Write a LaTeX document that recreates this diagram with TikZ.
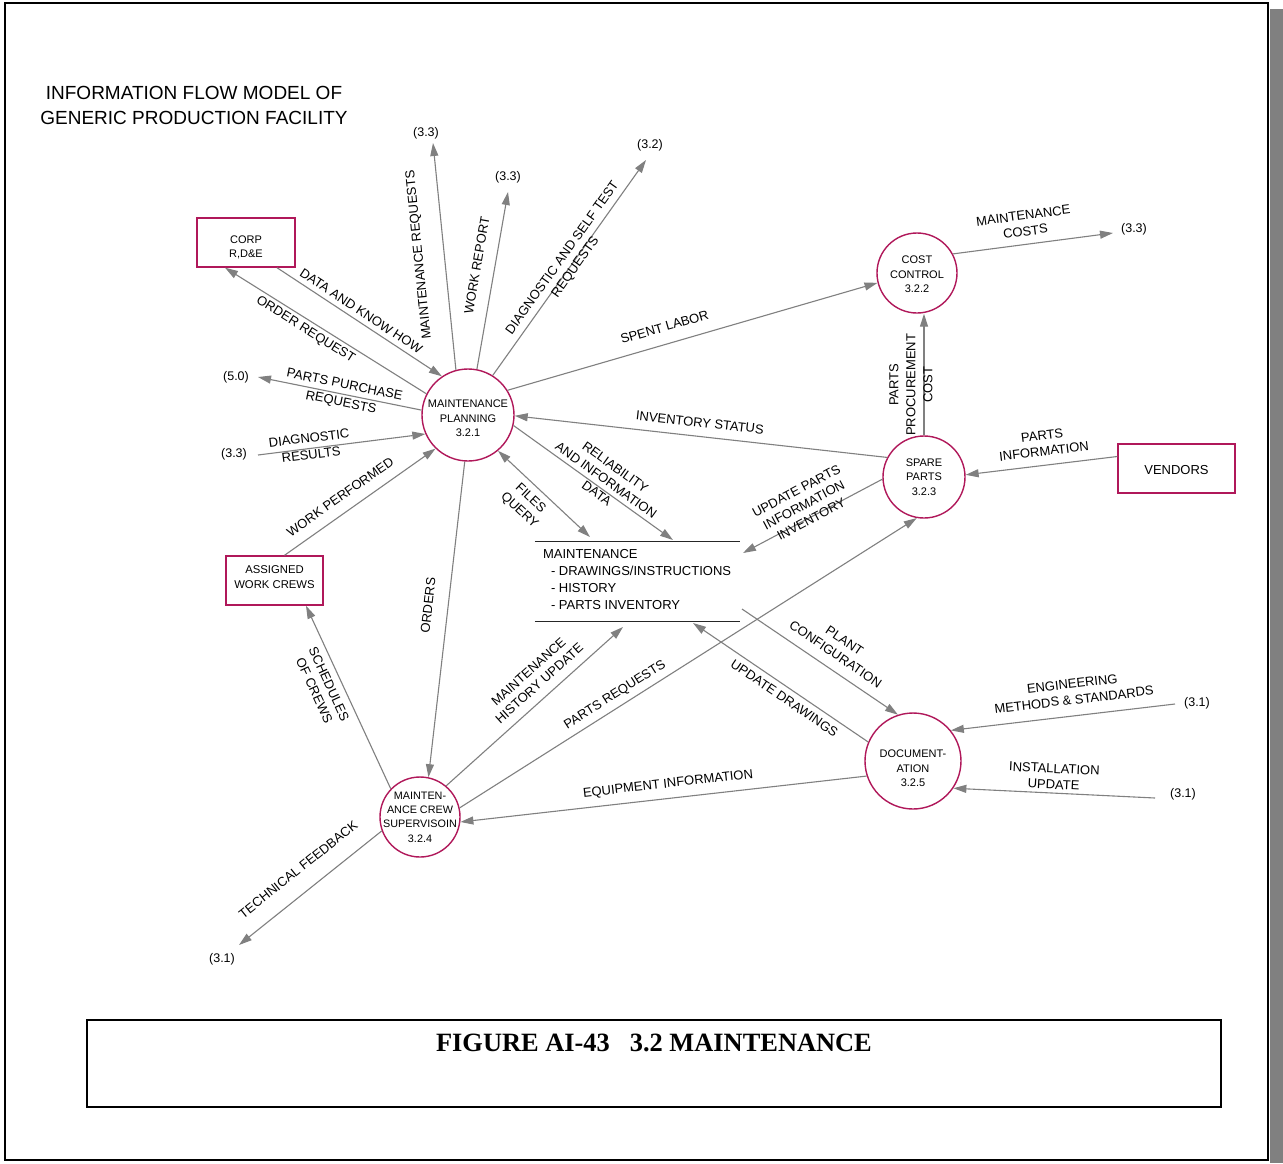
\documentclass[tikz,border=0pt]{standalone}
\usepackage{fontspec}
\setmainfont{Liberation Sans}
\newfontfamily\capfont{Liberation Serif}
\usetikzlibrary{arrows.meta,calc}

\definecolor{procred}{RGB}{176,24,90}
\definecolor{flowgray}{RGB}{128,128,128}

\begin{document}
\begin{tikzpicture}[x=1pt,y=-1pt,
  proc/.style={circle,draw=procred,line width=1.4pt,inner sep=0pt,minimum size=#1},
  ptext/.style={align=center,inner sep=0pt,font=\fontsize{11}{14.5}\selectfont},
  ext/.style={rectangle,draw=procred,line width=1.4pt,inner sep=0pt,minimum height=49pt},
  flow/.style={draw=flowgray,line width=1.1pt,-{Triangle[length=13pt,width=8pt]}},
  flowboth/.style={draw=flowgray,line width=1.1pt,{Triangle[length=13pt,width=8pt]}-{Triangle[length=13pt,width=8pt]}},
  lbl/.style={font=\fontsize{13}{16}\selectfont,align=center,inner sep=0pt,sloped,anchor=center},
  refnode/.style={font=\fontsize{12.5}{15}\selectfont,inner sep=0pt}]

\useasboundingbox (0,0) rectangle (1283,1163);
\fill[white] (0,0) rectangle (1283,1163);

% page frame with drop shadow
\fill[flowgray] (1270,9) rectangle (1283,1163);
\draw[line width=1.5pt] (5,3) rectangle (1268,1160);

% heading
\node[font=\fontsize{19}{25}\selectfont,align=center,inner sep=0pt] (title) at (194,105.5)
  {INFORMATION FLOW MODEL OF\\GENERIC PRODUCTION FACILITY};

% processes
\node[proc=92pt] (MP) at (468,415) {};
\node[ptext] (MPt) at ([yshift=-3.5pt]MP.center) {MAINTENANCE\\PLANNING\\3.2.1};
\node[proc=80pt] (CC) at (917,273) {};
\node[ptext] (CCt) at ([yshift=-1.5pt]CC.center) {COST\\CONTROL\\3.2.2};
\node[proc=82pt] (SP) at (924,477) {};
\node[ptext] (SPt) at (SP.center) {SPARE\\PARTS\\3.2.3};
\node[proc=80pt] (MCS) at (420,817) {};
\node[ptext,font=\fontsize{10.8}{14.3}\selectfont] (MCSt) at (MCS.center) {MAINTEN-\\ANCE CREW\\SUPERVISOIN\\3.2.4};
\node[proc=96pt] (DOC) at (913,761) {};
\node[ptext] (DOCt) at ([yshift=-7.5pt]DOC.center) {DOCUMENT-\\ATION\\3.2.5};

% external entities
\node[ext,minimum width=98pt] (CORP) at (246,242.5) {};
\node[ptext,font=\fontsize{11}{14}\selectfont] (CORPt) at ([yshift=-4.5pt]CORP.center) {CORP\\R,D\&E};
\node[ext,minimum width=97pt] (AWC) at (274.5,580.5) {};
\node[ptext,font=\fontsize{11.3}{15}\selectfont] (AWCt) at ([yshift=3pt]AWC.center) {ASSIGNED\\WORK CREWS};
\node[ext,minimum width=117pt] (VEN) at (1176.5,468.5) {};
\node[ptext,font=\fontsize{13}{16}\selectfont] (VENt) at ([yshift=-1.5pt]VEN.center) {VENDORS};

% data store
\node[minimum width=205pt,minimum height=79pt,inner sep=0pt] (DS) at (637.5,581.5) {};
\draw[line width=1.3pt,black!85] (DS.north west) -- (DS.north east) (DS.south west) -- (DS.south east);
\node[anchor=north west,align=left,inner sep=0pt,font=\fontsize{13}{17}\selectfont] (DSt)
  at ([xshift=8pt,yshift=-7pt]DS.north west)
  {MAINTENANCE\\\hspace*{8pt}- DRAWINGS/INSTRUCTIONS\\\hspace*{8pt}- HISTORY\\\hspace*{8pt}- PARTS INVENTORY};

\coordinate (dsUP) at (743,553);
\coordinate (dsFQ) at (590,537);
\coordinate (dsRE) at (673,540);
\coordinate (dsMH) at (623,627);
\coordinate (dsUD) at (693,623);
\coordinate (dsPC) at (742,609);

% references to other functions
\node[refnode] (r1) at (426,133) {(3.3)};
\node[refnode] (r2) at (508,177) {(3.3)};
\node[refnode] (r3) at (650,145) {(3.2)};
\node[refnode] (r4) at (1134,229) {(3.3)};
\node[refnode] (r5) at (236,377) {(5.0)};
\node[refnode] (r6) at (234,454) {(3.3)};
\node[refnode] (r7) at (1197,703) {(3.1)};
\node[refnode] (r8) at (1183,794) {(3.1)};
\node[refnode] (r9) at (222,959) {(3.1)};
\coordinate (e1) at (433,143);
\coordinate (e2) at (508,192);
\coordinate (e3) at (646,160);
\coordinate (e4) at (1113,233);
\coordinate (e5) at (258,377);
\coordinate (e6) at (258,455);
\coordinate (e7) at (1175,704);
\coordinate (e8) at (1155,798);
\coordinate (e9) at (239,945);

% information flows
\draw[flow] (MP.153) -- ([xshift=-21pt]CORP.south) node[lbl,pos=0.574,yshift=-10pt] {ORDER REQUEST};
\draw[flow] ([xshift=31pt]CORP.south) -- (MP.124) node[lbl,pos=0.477,yshift=10pt] {DATA AND KNOW HOW};
\draw[flow] (MP.105) -- (e1) node[lbl,allow upside down,pos=0.518,yshift=25pt] {MAINTENANCE REQUESTS};
\draw[flow] (MP.79) -- (e2) node[lbl,pos=0.567,yshift=18pt] {WORK REPORT};
\draw[flow] (MP.58) -- (e3) node[lbl,pos=0.515,yshift=3pt] {DIAGNOSTIC AND SELF TEST\\REQUESTS};
\draw[flow] (MP.32) -- (CC.194) node[lbl,pos=0.437,yshift=17pt] {SPENT LABOR};
\draw[flow] (CC.28) -- (e4) node[lbl,pos=0.463,yshift=21pt] {MAINTENANCE\\COSTS};
\draw[flow] (SP.north) -- (SP.north |- CC.south) node[lbl,pos=0.415,yshift=13pt,font=\fontsize{13}{17}\selectfont] {PARTS\\PROCUREMENT\\COST};
\draw[flow] (SP.152) -- (MP.-1) node[lbl,pos=0.507,yshift=14pt] {INVENTORY STATUS};
\draw[flow] ([yshift=12pt]VEN.west) -- (SP.3) node[lbl,pos=0.472,yshift=22pt] {PARTS\\INFORMATION};
\draw[flow] (SP.183) -- (dsUP) node[lbl,pos=0.517,yshift=14pt] {UPDATE PARTS\\INFORMATION\\INVENTORY};
\draw[flow] (MP.174) -- (e5) node[lbl,pos=0.482,yshift=0pt,font=\fontsize{13}{18}\selectfont] {PARTS PURCHASE\\REQUESTS};
\draw[flow] (e6) -- (MP.204) node[lbl,pos=0.313,yshift=2pt,font=\fontsize{13}{17}\selectfont] {DIAGNOSTIC\\RESULTS};
\draw[flow] ([xshift=10pt]AWC.north) -- (MP.226) node[lbl,pos=0.428,yshift=15.5pt] {WORK PERFORMED};
\draw[flowboth] (MP.310) -- (dsFQ) node[lbl,pos=0.447,yshift=-21pt] {FILES\\QUERY};
\draw[flow] (MP.347) -- (dsRE) node[lbl,pos=0.546,yshift=9.5pt] {RELIABILITY\\AND INFORMATION\\DATA};
\draw[flow] (MP.266) -- (MCS.78) node[lbl,pos=0.463,yshift=20pt] {ORDERS};
\draw[flow] (MCS.136) -- ([xshift=31.5pt]AWC.south) node[lbl,pos=0.6,yshift=-20pt] {SCHEDULES\\OF CREWS};
\draw[flow] (MCS.50) -- (dsMH) node[lbl,pos=0.579,yshift=22pt] {MAINTENANCE\\HISTORY UPDATE};
\draw[flow] (MCS.13) -- (SP.260) node[lbl,pos=0.354,yshift=12pt] {PARTS REQUESTS};
\draw[flow] (DOC.198) -- (MCS.-7) node[lbl,pos=0.485,yshift=14pt] {EQUIPMENT INFORMATION};
\draw[flow] (DOC.157) -- (dsUD) node[lbl,pos=0.443,yshift=-11pt] {UPDATE DRAWINGS};
\draw[flow] (dsPC) -- (DOC.108) node[lbl,pos=0.546,yshift=23pt] {PLANT\\CONFIGURATION};
\draw[flow] (e7) -- (DOC.39) node[lbl,pos=0.442,yshift=24pt] {ENGINEERING\\METHODS \& STANDARDS};
\draw[flow] (e8) -- (DOC.-34) node[lbl,pos=0.505,yshift=16.5pt] {INSTALLATION\\UPDATE};
\draw[flow] (MCS.200) -- (e9) node[lbl,pos=0.489,yshift=22pt] {TECHNICAL FEEDBACK};

% caption
\node[draw,line width=2pt,minimum width=1134pt,minimum height=87pt,inner sep=0pt] (capbox) at (654,1063.5) {};
\node[font=\capfont\bfseries\fontsize{26.4}{30}\selectfont,inner sep=0pt] (caption) at (654,1043)
  {FIGURE AI-43\hspace{20pt}3.2 MAINTENANCE};
\end{tikzpicture}
\end{document}
